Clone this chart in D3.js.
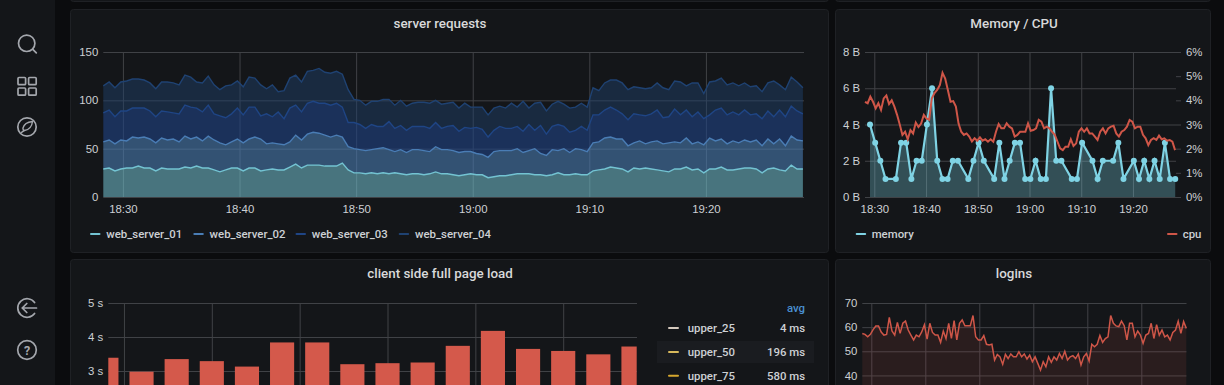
<!DOCTYPE html>
<html>
<head>
<meta charset="utf-8">
<title>dashboard</title>
<script src="https://cdn.jsdelivr.net/npm/d3@7"></script>
<style>
  html, body { margin: 0; padding: 0; background: #0b0c0e; overflow: hidden; }
  svg { display: block; font-family: Roboto, "Liberation Sans", sans-serif; }
  .title { font-size: 13.4px; font-weight: 500; fill: #d8d9da; text-anchor: middle; }
  .tick text, .lbl { font-size: 11.4px; font-weight: 500; fill: #cdd0d4; }
  .grid line { stroke: #404246; stroke-width: 1; }
  .grid path { display: none; }
</style>
</head>
<body>
<div class="canvas"></div>
<script>
// server requests, one sample every 30s from 18:28:19
const webServer01 = [29,30,27,29,30,30,32,30,30,27,30,29,29,29,31,30,32,30,30,28,26,28,30,30,27,30,30,27,28,29,28,28,31,34,30,33,33,33,32,32,32,35,28,25,25,24,25,24,25,24,25,24,23,24,24,23,24,26,24,24,23,22,23,24,23,23,20,21,22,22,23,24,24,24,23,23,22,23,25,23,23,24,23,23,27,28,29,31,30,29,26,30,29,30,29,28,27,26,29,29,31,28,29,25,29,29,31,28,28,29,30,30,29,25,29,30,28,27,33,29,29];
const webServer02 = [28,29,28,30,28,32,29,32,30,29,31,30,31,28,32,30,30,28,33,31,30,26,27,30,29,30,32,33,27,27,27,26,26,30,29,32,34,33,32,30,32,27,24,25,24,24,24,26,26,25,22,25,23,25,25,25,23,26,25,25,25,24,24,23,22,21,21,26,26,26,25,26,22,24,27,22,21,26,23,27,23,26,26,24,29,29,32,31,30,31,27,26,29,25,28,30,28,30,28,27,30,27,28,29,32,29,29,27,30,27,29,27,30,28,31,25,32,26,30,30,29];
const webServer03 = [30,31,28,30,31,30,31,30,29,27,28,29,27,29,32,33,30,30,32,27,28,28,29,32,29,33,31,24,31,27,33,27,35,31,29,32,32,31,33,33,33,31,25,27,26,23,26,23,22,29,24,25,23,24,24,25,24,25,22,24,26,22,25,24,27,26,21,22,25,23,23,23,22,27,19,29,22,24,27,23,21,19,24,22,29,28,29,31,30,26,27,30,27,29,29,32,27,27,34,29,29,28,31,27,24,32,32,30,30,29,31,28,27,28,29,28,30,30,31,30,28];
const webServer04 = [28,29,30,30,31,30,30,29,29,29,30,31,31,30,31,31,27,30,30,30,27,33,30,28,29,31,30,32,26,33,21,29,31,31,31,33,32,36,32,33,33,34,34,24,25,24,24,26,28,23,24,26,25,24,25,25,26,23,25,24,24,24,25,22,21,23,23,23,21,21,26,20,31,17,28,24,24,23,24,23,25,24,24,24,28,25,28,28,31,32,31,28,28,28,27,28,31,28,29,34,25,35,30,26,34,30,31,31,30,30,28,29,29,28,29,37,26,28,30,30,27];
const serverNames = ["web_server_01", "web_server_02", "web_server_03", "web_server_04"];
const serverColours = ["#73c3d2", "#4a7db5", "#1f4585", "#1f4272"];
const serverFillOpacity = [0.55, 0.58, 0.6, 0.45];

// memory: minute offset from 18:29:10 and value in bytes
const memoryMinutes = [0,1,2,3,5,6,7,8,9,10,11,12,13,14,15,16,17,19,20,21,22,24,25,26,27,28,29,30,31,32,33,34,35,36,37,39,40,41,43,44,45,47,48,49,51,52,53,54,55,56,57,58,59];
const memoryValues = [4,3,2,1,1,3,3,1,2,2,4,6,2,1,1,2,2,1,2,3,2,1,3,1,2,3,3,1,1,2,1,1,6,2,2,1,1,3,2,1,2,2,3,1,2,1,2,1,2,1,3,1,1];

// cpu %, one sample every 31s from 18:28:12
const cpuValues = [3.94,3.88,4.15,3.94,3.67,3.88,3.6,4.08,4.2,3.85,4,3.74,3.4,3,2.57,2.7,2.39,2.77,2.63,3.08,2.9,3.04,3.4,3.25,3.2,4.08,4.3,4.43,4.63,5.14,4.9,4.43,3.94,3.97,3.74,3.04,2.7,2.57,2.63,2.5,2.3,2.43,2.33,2.47,2.33,2.39,2.29,2.39,2.29,2.7,3.02,2.84,2.84,3.05,2.91,2.84,2.5,2.57,2.7,2.7,2.7,3.05,2.74,2.77,2.84,3.19,3.12,2.84,2.91,2.84,2.7,2.57,2.29,2.01,1.94,2.08,2.08,2.39,2.11,2.22,2.7,2.84,2.7,2.84,2.63,2.63,2.5,2.36,2.7,2.84,2.63,2.84,2.91,2.95,2.63,2.5,2.7,2.77,2.91,3.19,3.12,2.84,2.91,2.91,2.57,2.43,2.15,2.36,2.43,2.36,2.54,2.39,2.43,2.33,2.36,2.29,1.94];

// client side full page load, one bar every 4 minutes from 18:28
const pageLoadValues = [3.39,2.98,3.35,3.29,3.13,3.84,3.84,3.2,3.23,3.25,3.74,4.18,3.65,3.59,3.49,3.72];
const loadNames = ["upper_25", "upper_50", "upper_75"];
const loadAvg = ["4 ms", "196 ms", "580 ms"];
const loadColours = ["#d4c9bd", "#d8b95c", "#d5a72e"];

// logins, one sample every 30s from 18:28:20
const loginValues = [57.4,57,56,57,59,60.5,60.5,58,56.7,57,64,58.4,56.7,62,57.4,61.6,62.5,58.8,56.7,54.7,56.7,56,58,61,55,61.6,57.8,56.7,56.7,53.7,58.4,55.3,61.6,55.3,62.7,54.7,61.6,63,60.6,60.6,60.6,64.8,56,54.7,54.7,56.5,52.9,52.6,52.9,46.4,48.7,47.7,44.6,48.7,47,48.9,47.7,47.7,49.8,47.7,48.9,46.8,48.4,45.7,47.7,45,42.2,45.7,43.6,47.7,45.4,47.7,46.4,49.1,47,50,46.4,47.7,48.2,47,48.9,44.3,47.7,49.1,46,52.9,51.9,52.9,56.5,53.7,55.3,56,64.8,61.6,60.5,60.2,62.5,60.6,54.7,61.6,61.6,56,58.4,56.7,53.3,56.7,57.4,61.6,55.3,61,56.7,58.8,56,56.7,54.7,57.8,58.8,62.5,57.4,62.3,59.5];

const minute = 60000;
const at = (h, m, s = 0) => new Date(2020, 0, 1, h, m, s).getTime();
const hhmm = d3.timeFormat("%H:%M");
const pageHeight = 385;

const svg = d3
  .select(".canvas")
  .append("svg")
  .attr("width", 1224)
  .attr("height", pageHeight);

// sidebar
svg.append("rect").attr("width", 55).attr("height", pageHeight).attr("fill", "#141619");

// panel frames, the sliver at the top belongs to the row scrolled away
const panelRects = [
  { x: 70, y: -40, w: 758, h: 41 },
  { x: 835, y: -40, w: 375, h: 41 },
  { x: 70, y: 9, w: 758, h: 243 },
  { x: 835, y: 9, w: 375, h: 243 },
  { x: 70, y: 259, w: 758, h: 200 },
  { x: 835, y: 259, w: 375, h: 200 }
];
svg
  .selectAll("rect.panel")
  .data(panelRects)
  .enter()
  .append("rect")
  .attr("class", "panel")
  .attr("x", d => d.x + 0.5)
  .attr("y", d => d.y + 0.5)
  .attr("width", d => d.w)
  .attr("height", d => d.h)
  .attr("rx", 3)
  .attr("fill", "#141619")
  .attr("stroke", "#1f2125");

const title = (text, x, y) =>
  svg.append("text").attr("class", "title").attr("x", x).attr("y", y).text(text);

const label = (text, x, y, anchor = "start") =>
  svg
    .append("text")
    .attr("class", "lbl")
    .attr("x", x)
    .attr("y", y)
    .attr("text-anchor", anchor)
    .text(text);

const swatch = (x, y, colour, w = 10.5) =>
  svg
    .append("rect")
    .attr("x", x)
    .attr("y", y - 1)
    .attr("width", w)
    .attr("height", 2)
    .attr("rx", 1)
    .attr("fill", colour);

// grid and tick labels shared by all panels
const drawAxes = (x, y, yTicks, yFormat, left, right, top, bottom, yLabelX) => {
  const xAxis = svg
    .append("g")
    .attr("class", "grid")
    .attr("transform", `translate(0,${bottom})`)
    .call(
      d3
        .axisBottom(x)
        .ticks(d3.timeMinute.every(10))
        .tickFormat(hhmm)
        .tickSize(-(bottom - top))
        .tickPadding(6)
    );
  xAxis.selectAll("text").attr("dy", "0.9em");
  // the lower row runs past the page, its time labels are not on screen
  if (bottom > pageHeight) xAxis.selectAll("text").remove();

  const yAxis = svg
    .append("g")
    .attr("class", "grid")
    .attr("transform", `translate(${left},0)`)
    .call(
      d3
        .axisLeft(y)
        .tickValues(yTicks)
        .tickFormat(yFormat)
        .tickSize(-(right - left))
        .tickPadding(left - yLabelX)
    );
  yAxis.selectAll("text").attr("x", yLabelX - left);
};

// ---- server requests
const reqX = d3
  .scaleTime()
  .domain([at(18, 28, 19), at(19, 28, 19)])
  .range([103.3, 802.9]);
const reqY = d3.scaleLinear().domain([0, 150]).range([197, 52]);

title("server requests", 440, 28);
drawAxes(reqX, reqY, [0, 50, 100, 150], d3.format("d"), 103.3, 804, 52, 197, 98.3);

const reqRows = webServer01.map((v, i) => ({
  t: at(18, 28, 19) + i * 30000,
  [serverNames[0]]: v,
  [serverNames[1]]: webServer02[i],
  [serverNames[2]]: webServer03[i],
  [serverNames[3]]: webServer04[i]
}));
const reqStack = d3.stack().keys(serverNames)(reqRows);
const reqArea = d3
  .area()
  .x(d => reqX(d.data.t))
  .y0(d => reqY(d[0]))
  .y1(d => reqY(d[1]));
const reqLine = d3
  .line()
  .x(d => reqX(d.data.t))
  .y(d => reqY(d[1]));

svg
  .append("g")
  .selectAll("path")
  .data(reqStack)
  .enter()
  .append("path")
  .attr("d", reqArea)
  .attr("fill", (d, i) => serverColours[i])
  .attr("fill-opacity", (d, i) => serverFillOpacity[i]);
svg
  .append("g")
  .selectAll("path")
  .data(reqStack)
  .enter()
  .append("path")
  .attr("d", reqLine)
  .attr("fill", "none")
  .attr("stroke", (d, i) => serverColours[i])
  .attr("stroke-width", 1.4);

[90, 193.3, 295.5, 398.7].forEach((x, i) => {
  swatch(x, 234, serverColours[i]);
  label(serverNames[i], x + 16.3, 238);
});

// ---- memory / cpu
const memX = d3
  .scaleTime()
  .domain([at(18, 28, 12), at(19, 28, 12)])
  .range([865, 1175.4]);
const memY = d3.scaleLinear().domain([0, 8]).range([197, 52]);
const cpuY = d3.scaleLinear().domain([0, 6]).range([197, 52]);

title("Memory / CPU", 1014, 28);
drawAxes(memX, memY, [0, 2, 4, 6, 8], d => `${d} B`, 865, 1176, 52, 197, 860);

svg
  .append("g")
  .attr("transform", "translate(1176,0)")
  .call(
    d3
      .axisRight(cpuY)
      .tickValues([0, 1, 2, 3, 4, 5, 6])
      .tickFormat(d => `${d}%`)
      .tickSize(5)
      .tickPadding(5)
  )
  .call(g => g.select(".domain").remove())
  .call(g => g.selectAll("line").attr("stroke", "#404246"));

const memPoints = memoryMinutes.map((m, i) => ({
  t: at(18, 29, 10) + m * minute,
  v: memoryValues[i]
}));
const cpuPoints = cpuValues.map((v, i) => ({ t: at(18, 28, 12) + i * 31000, v }));

svg
  .append("path")
  .attr(
    "d",
    d3
      .area()
      .x(d => memX(d.t))
      .y0(memY(0))
      .y1(d => memY(d.v))(memPoints)
  )
  .attr("fill", "#7fd3e4")
  .attr("fill-opacity", 0.3);
svg
  .append("path")
  .attr(
    "d",
    d3
      .line()
      .x(d => memX(d.t))
      .y(d => memY(d.v))(memPoints)
  )
  .attr("fill", "none")
  .attr("stroke", "#7fd3e4")
  .attr("stroke-width", 2.2);
svg
  .append("g")
  .selectAll("circle")
  .data(memPoints)
  .enter()
  .append("circle")
  .attr("cx", d => memX(d.t))
  .attr("cy", d => memY(d.v))
  .attr("r", 3)
  .attr("fill", "#7fd3e4");
svg
  .append("path")
  .attr(
    "d",
    d3
      .line()
      .x(d => memX(d.t))
      .y(d => cpuY(d.v))(cpuPoints)
  )
  .attr("fill", "none")
  .attr("stroke", "#cf5648")
  .attr("stroke-width", 2);

swatch(855.7, 234, "#7fd3e4");
label("memory", 871.7, 238);
swatch(1167, 234, "#cf5648");
label("cpu", 1182.7, 238);

// ---- client side full page load
const loadX = d3
  .scaleTime()
  .domain([at(18, 28, 13), at(19, 28, 22)])
  .range([108.3, 636.7]);
const loadY = d3.scaleLinear().domain([0, 5]).range([473, 303]);

title("client side full page load", 440, 278);
drawAxes(loadX, loadY, [3, 4, 5], d => `${d} s`, 108.3, 637, 303, 473, 103.3);

svg
  .append("clipPath")
  .attr("id", "bar-clip")
  .append("rect")
  .attr("x", loadX.range()[0])
  .attr("y", 290)
  .attr("width", loadX.range()[1] - loadX.range()[0])
  .attr("height", 200);

const barWidth = loadX(at(18, 32)) - loadX(at(18, 28)) - 11;
svg
  .append("g")
  .attr("clip-path", "url(#bar-clip)")
  .selectAll("rect")
  .data(pageLoadValues)
  .enter()
  .append("rect")
  .attr("x", (d, i) => loadX(at(18, 28) + i * 4 * minute) - barWidth / 2)
  .attr("y", d => loadY(d))
  .attr("width", barWidth)
  .attr("height", d => loadY(0) - loadY(d))
  .attr("fill", "#d4594b");

svg
  .append("rect")
  .attr("x", 657)
  .attr("y", 341)
  .attr("width", 157)
  .attr("height", 22)
  .attr("fill", "#1a1c20");
label("avg", 805, 312, "end").style("fill", "#4a90d2");
[328, 352, 375.7].forEach((y, i) => {
  swatch(668, y, loadColours[i], 11);
  label(loadNames[i], 687.7, y + 4);
  label(loadAvg[i], 805, y + 4, "end");
});

// ---- logins
const loginX = d3
  .scaleTime()
  .domain([at(18, 28, 20), at(19, 28, 20)])
  .range([862.3, 1186.3]);
const loginY = d3.scaleLinear().domain([0, 70]).range([472, 303]);

title("logins", 1014, 278);
drawAxes(loginX, loginY, [40, 50, 60, 70], d3.format("d"), 862.3, 1186.5, 303, 472, 857.3);

const loginPoints = loginValues.map((v, i) => ({ t: at(18, 28, 20) + i * 30000, v }));
svg
  .append("path")
  .attr(
    "d",
    d3
      .area()
      .x(d => loginX(d.t))
      .y0(loginY(0))
      .y1(d => loginY(d.v))(loginPoints)
  )
  .attr("fill", "#cf5648")
  .attr("fill-opacity", 0.12);
svg
  .append("path")
  .attr(
    "d",
    d3
      .line()
      .x(d => loginX(d.t))
      .y(d => loginY(d.v))(loginPoints)
  )
  .attr("fill", "none")
  .attr("stroke", "#cf5648")
  .attr("stroke-width", 1.5);

// ---- sidebar icons
const icons = svg
  .append("g")
  .attr("fill", "none")
  .attr("stroke", "#a4a7ad")
  .attr("stroke-width", 1.7)
  .attr("stroke-linecap", "round");

icons.append("circle").attr("cx", 26.7).attr("cy", 43.3).attr("r", 8.2);
icons.append("path").attr("d", "M32.8 49.4L36.3 52.9");

[[18, 77.5], [28.6, 77.5], [18, 88], [28.6, 88]].forEach(p =>
  icons
    .append("rect")
    .attr("x", p[0])
    .attr("y", p[1])
    .attr("width", 7.6)
    .attr("height", 7.2)
    .attr("rx", 1)
);

icons.append("circle").attr("cx", 27).attr("cy", 127).attr("r", 9.2);
icons
  .append("path")
  .attr("d", "M32.5 121.5C32 126 30 129.5 24.5 130.5C23 131 22.3 131.7 21.5 132.5M32.5 121.5C27.5 122 24 124 23 128C22.8 129 23 130 24.5 130.5")
  .attr("stroke-width", 1.4);

icons.append("path").attr("d", "M34.6 302.5A9.3 9.3 0 1 0 34.6 313.5");
icons.append("path").attr("d", "M36.5 308H22.5M26.8 303.5L22.3 308L26.8 312.5");

icons.append("circle").attr("cx", 27).attr("cy", 350).attr("r", 9.3);
svg
  .append("text")
  .attr("x", 27)
  .attr("y", 354.5)
  .attr("text-anchor", "middle")
  .attr("fill", "#a4a7ad")
  .style("font-size", "12.5px")
  .style("font-weight", 700)
  .text("?");
</script>
</body>
</html>
